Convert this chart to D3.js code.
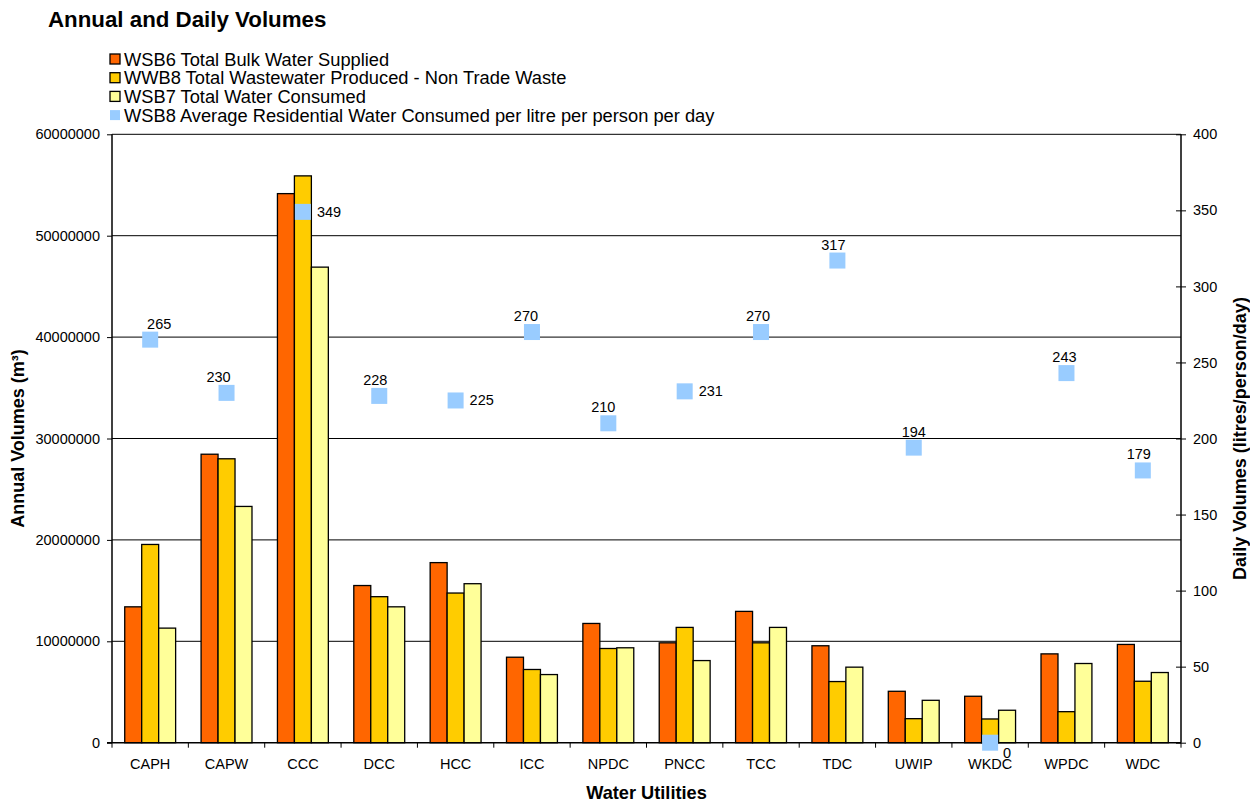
<!DOCTYPE html>
<html>
<head>
<meta charset="utf-8">
<script src="https://cdn.jsdelivr.net/npm/d3@7"></script>
<style>
  html, body { margin: 0; padding: 0; background: #fff; }
  svg { display: block; font-family: "Liberation Sans", Arial, sans-serif; }
</style>
</head>
<body>
<svg id="chart" width="1250" height="802"></svg>
<script>
// ---------- DATA ----------
const categories = ["CAPH","CAPW","CCC","DCC","HCC","ICC","NPDC","PNCC","TCC","TDC","UWIP","WKDC","WPDC","WDC"];
const seriesNames = [
  "WSB6 Total Bulk Water Supplied",
  "WWB8 Total Wastewater Produced - Non Trade Waste",
  "WSB7 Total Water Consumed"
];
const bulkSupplied   = [13400000, 28450000, 54150000, 15500000, 17760000, 8430000, 11760000, 9850000, 12950000, 9560000, 5070000, 4580000, 8760000, 9690000];
const wastewater     = [19550000, 28000000, 55900000, 14400000, 14760000, 7220000, 9290000, 11370000, 9850000, 6030000, 2370000, 2340000, 3060000, 6060000];
const waterConsumed  = [11300000, 23300000, 46900000, 13400000, 15680000, 6720000, 9360000, 8100000, 11370000, 7450000, 4180000, 3200000, 7810000, 6920000];
const dailyName = "WSB8 Average Residential Water Consumed per litre per person per day";
const dailyPerPerson = [265, 230, 349, 228, 225, 270, 210, 231, 270, 317, 194, 0, 243, 179];
const leftTicks  = [0, 10000000, 20000000, 30000000, 40000000, 50000000, 60000000];
const rightTicks = [0, 50, 100, 150, 200, 250, 300, 350, 400];
// data-label placement (layout config, not data)
const labelPlacement = ["above","above","right","above","right","above","above","right","above","above","above","belowright","above","above"];
const labelNudge = [9, -8, 0, -4, 0, -6, -5, 0, -3, -4, 0, 0, -2, -4];

// ---------- LAYOUT ----------
const plot = { left: 112, right: 1181, top: 134.3, bottom: 742.7 };
const colors = ["#FF6600", "#FFCC00", "#FFFF99"];
const markerColor = "#99CCFF";
const seriesValues = [bulkSupplied, wastewater, waterConsumed];

const svg = d3.select("#chart");

const x = d3.scaleBand().domain(categories).range([plot.left, plot.right]).paddingInner(0).paddingOuter(0);
const x1 = d3.scaleBand().domain(d3.range(3)).range([0, x.bandwidth()]).paddingInner(0).paddingOuter(0.75);
const yL = d3.scaleLinear().domain([0, 60000000]).range([plot.bottom, plot.top]);
const yR = d3.scaleLinear().domain([0, 400]).range([plot.bottom, plot.top]);

// gridlines
svg.append("g").selectAll("line").data(leftTicks.filter(d => d > 0)).join("line")
  .attr("x1", plot.left).attr("x2", plot.right)
  .attr("y1", d => yL(d)).attr("y2", d => yL(d))
  .attr("stroke", "#000").attr("stroke-width", 1);

// bars
const rows = categories.map((c, i) => ({ c, vals: seriesValues.map(s => s[i]) }));
const g = svg.append("g").selectAll("g").data(rows).join("g")
  .attr("transform", d => `translate(${x(d.c)},0)`);
g.selectAll("rect").data(d => d.vals.map((v, k) => ({ v, k }))).join("rect")
  .attr("x", d => x1(d.k))
  .attr("y", d => yL(d.v))
  .attr("width", x1.bandwidth())
  .attr("height", d => yL(0) - yL(d.v))
  .attr("fill", d => colors[d.k])
  .attr("stroke", "#000").attr("stroke-width", 1.3);

// left axis
const axL = svg.append("g").attr("transform", `translate(${plot.left},0)`)
  .call(d3.axisLeft(yL).tickValues(leftTicks).tickFormat(d3.format("d")).tickSize(5).tickPadding(7));
// bottom axis
const axB = svg.append("g").attr("transform", `translate(0,${plot.bottom})`)
  .call(d3.axisBottom(x).tickSize(0).tickPadding(16));
// category boundary ticks
svg.append("g").selectAll("line").data(categories.concat(["_end"])).join("line")
  .attr("x1", (d, i) => plot.left + i * x.step()).attr("x2", (d, i) => plot.left + i * x.step())
  .attr("y1", plot.bottom).attr("y2", plot.bottom + 5)
  .attr("stroke", "#000");
// right axis
const axR = svg.append("g").attr("transform", `translate(${plot.right},0)`)
  .call(d3.axisRight(yR).tickValues(rightTicks).tickSize(5).tickPadding(7));
axR.selectAll(".tick line").attr("x1", -5);

[axL, axB, axR].forEach(a => {
  a.select(".domain").attr("stroke", "#000").attr("stroke-width", 1.5);
  a.selectAll(".tick line").attr("stroke", "#000");
  a.selectAll("text").attr("fill", "#000").attr("font-size", 14.5).attr("font-family", "Liberation Sans, Arial, sans-serif");
});
axL.select(".domain").attr("d", `M0,${plot.top}V${plot.bottom}`);
axR.select(".domain").attr("d", `M0,${plot.top}V${plot.bottom}`);
axB.select(".domain").attr("d", `M${plot.left - 5},0H${plot.right}`);

// markers
const ms = 16;
svg.append("g").selectAll("rect").data(dailyPerPerson).join("rect")
  .attr("x", (d, i) => x(categories[i]) + x.bandwidth() / 2 - ms / 2)
  .attr("y", d => yR(d) - ms / 2)
  .attr("width", ms).attr("height", ms)
  .attr("fill", markerColor);

// data labels
svg.append("g").selectAll("text").data(dailyPerPerson).join("text")
  .attr("font-size", 14.5).attr("fill", "#000")
  .attr("dominant-baseline", "central")
  .attr("text-anchor", (d, i) => labelPlacement[i] === "above" ? "middle" : "start")
  .attr("x", (d, i) => {
    const cx = x(categories[i]) + x.bandwidth() / 2;
    if (labelPlacement[i] === "right") return cx + 14;
    if (labelPlacement[i] === "belowright") return cx + 13;
    return cx + labelNudge[i];
  })
  .attr("y", (d, i) => {
    const cy = yR(d);
    if (labelPlacement[i] === "right") return cy;
    if (labelPlacement[i] === "belowright") return cy + 10;
    return cy - 16;
  })
  .text(d => d);

// title
svg.append("text").attr("x", 48).attr("y", 27)
  .attr("font-size", 22.3).attr("font-weight", "bold").attr("fill", "#000")
  .text("Annual and Daily Volumes");

// legend
const legendItems = seriesNames.map((n, k) => ({ n, fill: colors[k], border: true }))
  .concat([{ n: dailyName, fill: markerColor, border: false }]);
const lg = svg.append("g").selectAll("g").data(legendItems).join("g")
  .attr("transform", (d, i) => `translate(110,${59 + i * 18.7})`);
lg.append("rect").attr("x", 0).attr("y", -5).attr("width", 10).attr("height", 10)
  .attr("fill", d => d.fill)
  .attr("stroke", d => d.border ? "#000" : "none").attr("stroke-width", 1.3);
lg.append("text").attr("x", 14).attr("y", 0).attr("dominant-baseline", "central")
  .attr("font-size", 18.3).attr("fill", "#000").text(d => d.n);

// axis titles
svg.append("text").attr("x", (plot.left + plot.right) / 2).attr("y", 799)
  .attr("text-anchor", "middle").attr("font-size", 18.2).attr("font-weight", "bold")
  .text("Water Utilities");
svg.append("text")
  .attr("transform", `translate(24,${(plot.top + plot.bottom) / 2}) rotate(-90)`)
  .attr("text-anchor", "middle").attr("font-size", 18).attr("font-weight", "bold")
  .text("Annual Volumes (m³)");
svg.append("text")
  .attr("transform", `translate(1246,${(plot.top + plot.bottom) / 2}) rotate(-90)`)
  .attr("text-anchor", "middle").attr("font-size", 18).attr("font-weight", "bold")
  .text("Daily Volumes (litres/person/day)");
</script>
</body>
</html>
